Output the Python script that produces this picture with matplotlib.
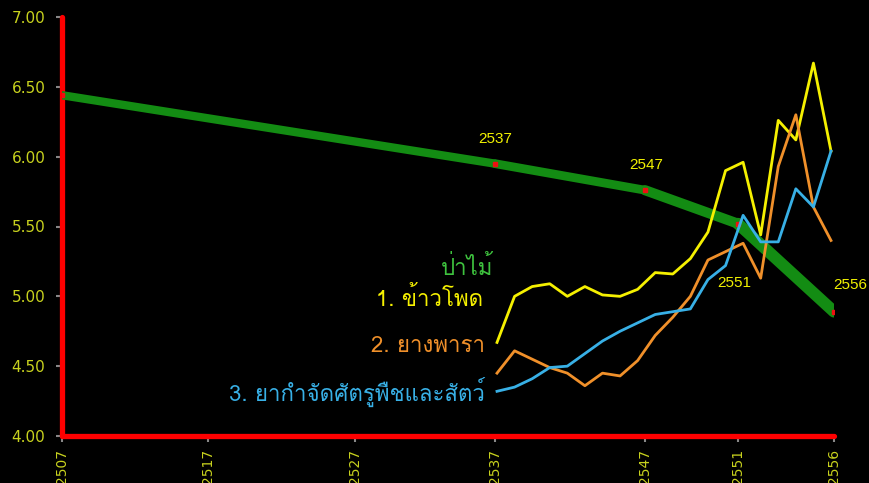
import numpy as np
import matplotlib
matplotlib.use("Agg")
import matplotlib.pyplot as plt
from matplotlib import font_manager
from matplotlib.ft2font import FT2Font

# ---- data ----
tick_years = [2507, 2517, 2527, 2537, 2547, 2551, 2556]
tick_labels = ["2507", "2517", "2527", "2537", "2547", "2551", "2556"]
# uneven spacing of the category axis (relative units)
tick_pos = [0, 146, 293, 433, 583, 676, 772]

forest_years = [2507, 2537, 2547, 2551, 2556]
forest_vals = [6.44, 5.95, 5.76, 5.52, 4.89]
forest_labels = ["", "2537", "2547", "2551", "2556"]

years = list(range(2537, 2557))
corn = [4.67, 5.00, 5.07, 5.09, 5.00, 5.07, 5.01, 5.00, 5.05, 5.17,
        5.16, 5.27, 5.46, 5.90, 5.96, 5.44, 6.26, 6.12, 6.67, 6.04]
rubber = [4.45, 4.61, 4.55, 4.49, 4.45, 4.36, 4.45, 4.43, 4.54, 4.72,
          4.85, 5.00, 5.26, 5.32, 5.38, 5.13, 5.93, 6.30, 5.64, 5.40]
pesticide = [4.32, 4.35, 4.41, 4.49, 4.50, 4.59, 4.68, 4.75, 4.81, 4.87,
             4.89, 4.91, 5.12, 5.22, 5.58, 5.39, 5.39, 5.77, 5.64, 6.04]


def thai_font():
    for f in font_manager.fontManager.ttflist:
        try:
            if ord("ก") in FT2Font(f.fname).get_charmap():
                return f.name
        except Exception:
            pass
    return "DejaVu Sans"


TH = thai_font()
plt.rcParams["font.family"] = [TH, "DejaVu Sans"]

fig = plt.figure(figsize=(8.69, 4.83), dpi=100, facecolor="black")
ax = fig.add_axes([62 / 869, 47 / 483, 772 / 869, 419 / 483])
ax.set_facecolor("black")

fwd = lambda x: np.interp(x, tick_years, tick_pos)
inv = lambda p: np.interp(p, tick_pos, tick_years)
ax.set_xscale("function", functions=(fwd, inv))
ax.set_xlim(2507, 2556)
ax.set_ylim(4.0, 7.0)

# forest line, getting a bit thicker towards the end
widths = [6.0, 6.3, 7.3, 8.5]
for i in range(len(forest_years) - 1):
    ax.plot(forest_years[i:i + 2], forest_vals[i:i + 2], color="#138c13",
            lw=widths[i], solid_capstyle="round", zorder=3)
ax.plot(forest_years, forest_vals, ls="none", marker="s", ms=3.5,
        color="#ee1111", zorder=4)
offsets = {"2537": (0, 13), "2547": (1, 13), "2551": (-3, -48), "2556": (12, 14)}
for yr, v, lab in zip(forest_years, forest_vals, forest_labels):
    if lab:
        ax.annotate(lab, (yr, v), xytext=offsets[lab], textcoords="offset points",
                    ha="center", va="bottom", color="#f2f200", fontsize=11,
                    family="Liberation Sans", annotation_clip=False)

# yearly lines on their own linear axis
ax2 = ax.twiny()
ax2.set_xlim(2537 - 435 * 19 / 334, 2556 + 3 * 19 / 334)
ax2.set_ylim(4.0, 7.0)
ax2.axis("off")
ax2.plot(years, corn, color="#f5f000", lw=2, zorder=5)
ax2.plot(years, rubber, color="#f0902a", lw=2, zorder=5)
ax2.plot(years, pesticide, color="#38b0e6", lw=2, zorder=6)

# labels
ax.text(493 / 869, 1 - 268 / 483, "ป่าไม้", transform=fig.transFigure,
        ha="right", va="center", color="#3ec23e", fontsize=16)
ax.text(483 / 869, 1 - 299 / 483, "1. ข้าวโพด", transform=fig.transFigure,
        ha="right", va="center", color="#f5f000", fontsize=16)
ax.text(485 / 869, 1 - 346 / 483, "2. ยางพารา", transform=fig.transFigure,
        ha="right", va="center", color="#f0902a", fontsize=16)
ax.text(485 / 869, 1 - 392 / 483, "3. ยากำจัดศัตรูพืชและสัตว์", transform=fig.transFigure,
        ha="right", va="center", color="#38b0e6", fontsize=16)

# axes styling
for s in ["top", "right"]:
    ax.spines[s].set_visible(False)
for s in ["left", "bottom"]:
    ax.spines[s].set_color("#ff0000")
    ax.spines[s].set_linewidth(3.8)
    ax.spines[s].set_capstyle("round")

ax.set_yticks(np.arange(4.0, 7.01, 0.5))
ax.set_yticklabels([f"{v:.2f}" for v in np.arange(4.0, 7.01, 0.5)])
ax.set_xticks(tick_years)
ax.set_xticklabels(tick_labels, rotation=90)
ax.tick_params(axis="both", colors="#888888", length=4, width=1.5, direction="out")
ax.tick_params(axis="y", labelcolor="#c8d21e", labelsize=11, pad=8)
ax.tick_params(axis="x", labelcolor="#c8d21e", labelsize=10, pad=5)
for lab in ax.get_xticklabels() + ax.get_yticklabels():
    lab.set_family("DejaVu Sans")

fig.savefig("out.png", dpi=100, facecolor="black")
